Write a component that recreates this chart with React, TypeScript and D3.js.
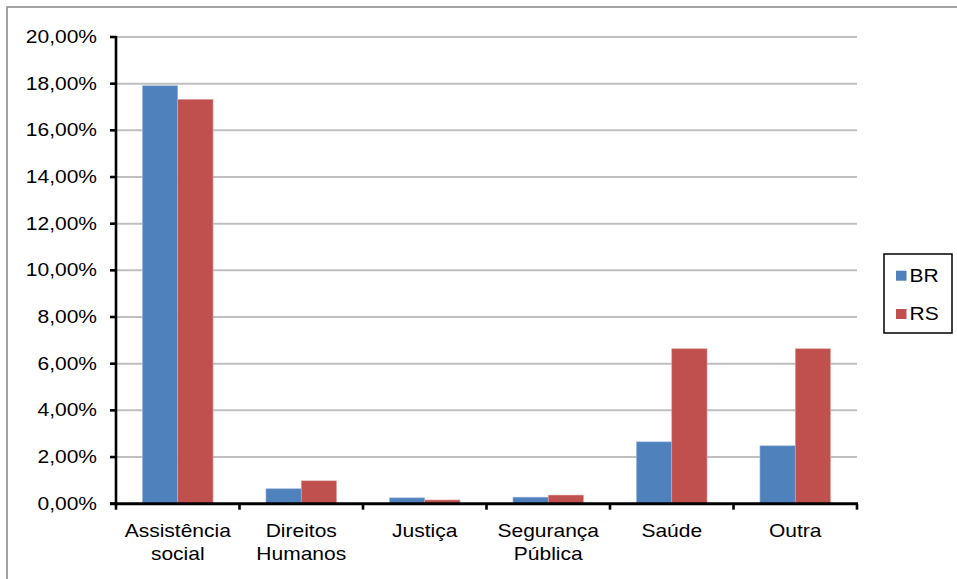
import React from "react";
import * as d3 from "d3";

const categories: string[][] = [
  ["Assistência", "social"],
  ["Direitos", "Humanos"],
  ["Justiça"],
  ["Segurança", "Pública"],
  ["Saúde"],
  ["Outra"],
];
const seriesNames = ["BR", "RS"];
const brValues = [17.91, 0.64, 0.25, 0.28, 2.65, 2.48];
const rsValues = [17.33, 0.98, 0.16, 0.37, 6.64, 6.64];
const yTicks = [0, 2, 4, 6, 8, 10, 12, 14, 16, 18, 20];
const colors = ["#4F81BD", "#C0504D"];

const W = 957;
const H = 579;
const left = 116;
const right = 857;
const top = 37;
const bottom = 503.7;
const FS = 17.5;
const SX = 1.2;
const FONT = "'Liberation Sans', Arial, sans-serif";

const fmt = (v: number) => v.toFixed(2).replace(".", ",") + "%";

export default function App() {
  const x0 = d3
    .scaleBand<number>()
    .domain(categories.map((_, i) => i))
    .range([left, right])
    .paddingInner(0)
    .paddingOuter(0);
  const bw = x0.bandwidth();
  const x1 = d3
    .scaleBand<number>()
    .domain([0, 1])
    .range([0, bw])
    .paddingInner(0)
    .paddingOuter(0.75);
  const y = d3.scaleLinear().domain([0, 20]).range([bottom, top]);
  const series = [brValues, rsValues];

  return (
    <svg
      width={W}
      height={H}
      style={{ position: "absolute", left: 0, top: 0, background: "#fff" }}
      fontFamily={FONT}
    >
      <rect x={0} y={0} width={W} height={H} fill="#fff" />
      <rect x={7} y={7} width={1100} height={700} fill="none" stroke="#8c8c8c" strokeWidth={1.6} />
      {/* gridlines */}
      {yTicks.map((t) => (
        <line key={"g" + t} x1={left} x2={right} y1={y(t)} y2={y(t)} stroke="#bfbfbf" strokeWidth={2} />
      ))}
      {/* bars */}
      {series.map((vals, s) =>
        vals.map((v, i) => (
          <rect
            key={`b${s}-${i}`}
            x={(x0(i) as number) + (x1(s) as number)}
            y={y(v)}
            width={x1.bandwidth()}
            height={bottom - y(v)}
            fill={colors[s]}
            stroke={s === 0 ? "#9db7dc" : "#e0a6a4"}
            strokeWidth={0.6}
          />
        ))
      )}
      {/* y axis */}
      <line x1={left} x2={left} y1={top - 1} y2={bottom + 2} stroke="#000" strokeWidth={2.6} />
      {yTicks.map((t) => (
        <g key={"yt" + t}>
          <line x1={left - 6} x2={left} y1={y(t)} y2={y(t)} stroke="#000" strokeWidth={2.6} />
          <text
            transform={`translate(97,${y(t) + 6}) scale(${SX},1)`}
            textAnchor="end"
            fontSize={FS}
            fill="#000"
          >
            {fmt(t)}
          </text>
        </g>
      ))}
      {/* x axis */}
      <line x1={left - 6} x2={right + 1} y1={bottom} y2={bottom} stroke="#000" strokeWidth={3} />
      {categories.map((_, i) => (
        <line
          key={"xt" + i}
          x1={x0(i) as number}
          x2={x0(i) as number}
          y1={bottom}
          y2={bottom + 6}
          stroke="#000"
          strokeWidth={2.6}
        />
      ))}
      <line x1={right} x2={right} y1={bottom} y2={bottom + 6} stroke="#000" strokeWidth={2.6} />
      {categories.map((lines, i) => (
        <g key={"xl" + i}>
          {lines.map((ln, k) => (
            <text
              key={k}
              transform={`translate(${(x0(i) as number) + bw / 2},${536.7 + k * 23.3}) scale(${SX},1)`}
              textAnchor="middle"
              fontSize={FS}
              fill="#000"
            >
              {ln}
            </text>
          ))}
        </g>
      ))}
      {/* legend */}
      <rect x={884} y={254} width={68} height={79} fill="#fff" stroke="#000" strokeWidth={1.5} />
      {seriesNames.map((n, s) => (
        <g key={"lg" + n}>
          <rect x={896} y={270.7 + s * 38.3} width={10.5} height={10} fill={colors[s]} />
          <text
            transform={`translate(909.5,${281.7 + s * 38.3}) scale(${SX},1)`}
            fontSize={FS}
            fill="#000"
          >
            {n}
          </text>
        </g>
      ))}
    </svg>
  );
}
